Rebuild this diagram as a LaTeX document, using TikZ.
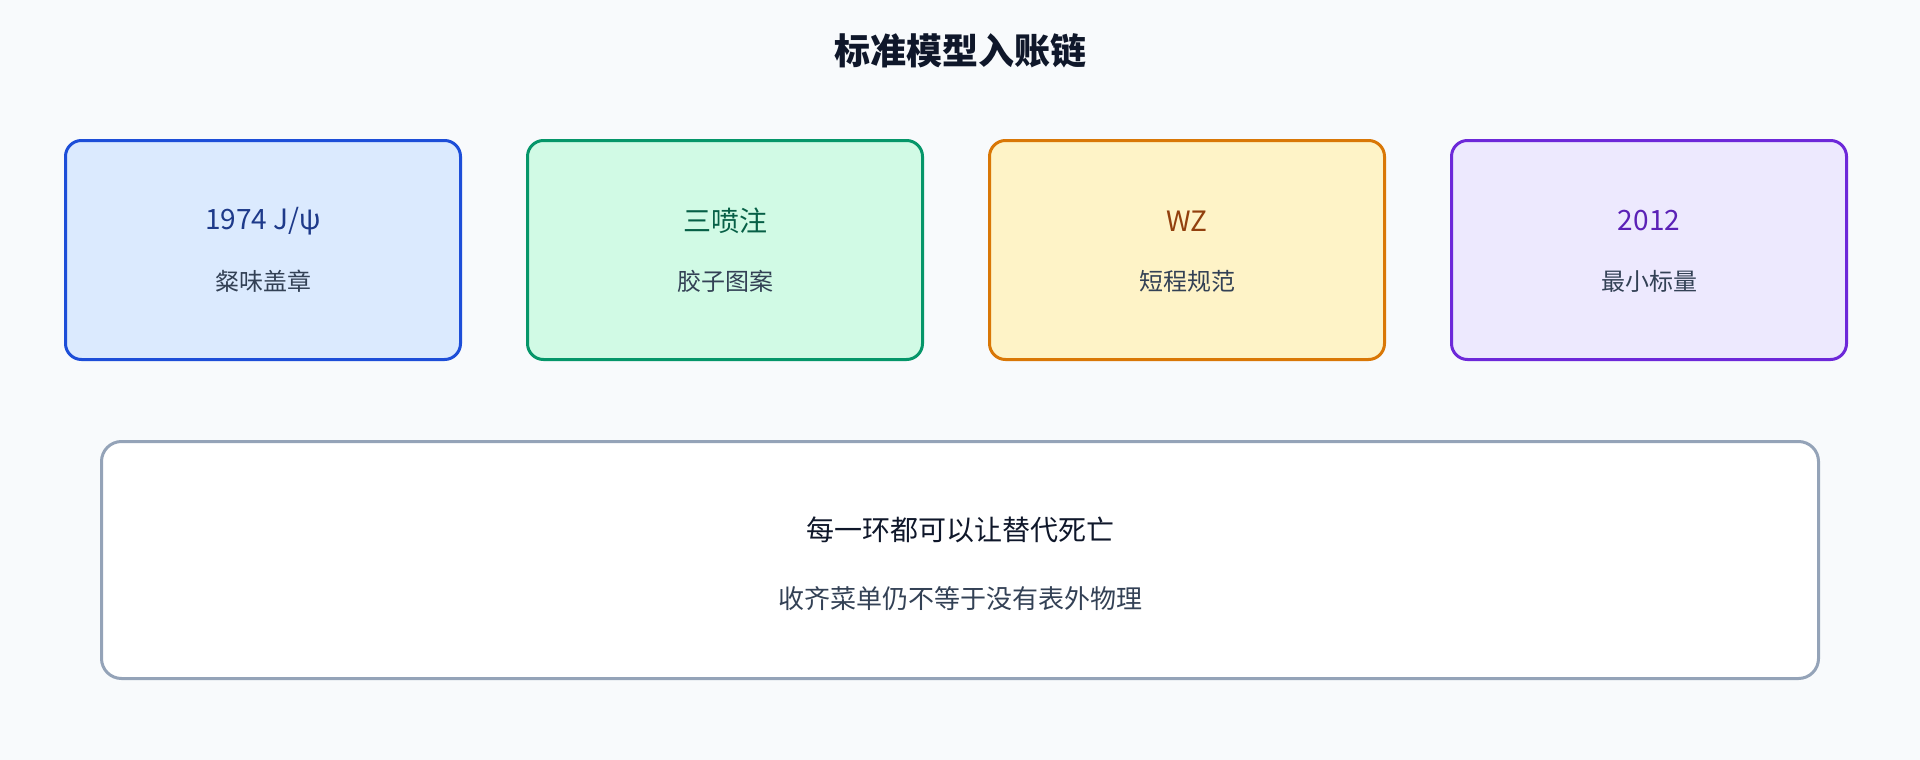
\documentclass[tikz,border=0pt]{standalone}
\usepackage{fontspec}
\setmainfont{Noto Sans CJK SC}
\usetikzlibrary{positioning}

\definecolor{pagebg}{HTML}{F8FAFC}
\definecolor{inkdark}{HTML}{0F172A}
\definecolor{inknote}{HTML}{334155}
\definecolor{blueline}{HTML}{1D4ED8}
\definecolor{bluefill}{HTML}{DBEAFE}
\definecolor{bluetext}{HTML}{1E3A8A}
\definecolor{greenline}{HTML}{059669}
\definecolor{greenfill}{HTML}{D1FAE5}
\definecolor{greentext}{HTML}{065F46}
\definecolor{amberline}{HTML}{D97706}
\definecolor{amberfill}{HTML}{FEF3C7}
\definecolor{ambertext}{HTML}{92400E}
\definecolor{violetline}{HTML}{6D28D9}
\definecolor{violetfill}{HTML}{EDE9FE}
\definecolor{violettext}{HTML}{5B21B6}
\definecolor{slateline}{HTML}{94A3B8}

\begin{document}
\begin{tikzpicture}[x=1pt,y=-1pt]
    \tikzstyle{card}=[rectangle,draw,line width=3pt,rounded corners=16pt,minimum width=395pt,minimum height=219pt,inner sep=0pt]
    \tikzstyle{cardhead}=[inner sep=0pt,font=\fontsize{28}{32}\selectfont]
    \tikzstyle{cardnote}=[inner sep=0pt,text=inknote,font=\fontsize{24}{28}\selectfont]
    \fill [pagebg] (0,0) rectangle (1920,760);
    \useasboundingbox (0,0) rectangle (1920,760);
    \node [inner sep=0pt,text=inkdark,font=\fontsize{36}{40}\selectfont\bfseries] (title) at (960,51) {标准模型入账链};
    % four links of the chain
    \node [card,draw=blueline,fill=bluefill] (jpsi) at (263,250) {};
    \node [cardhead,text=bluetext] (jpsihead) at ([yshift=29pt]jpsi.center) {1974 J/ψ};
    \node [cardnote] (jpsinote) at ([yshift=-31pt]jpsi.center) {粲味盖章};
    \node [card,draw=greenline,fill=greenfill] (gluon) at (725,250) {};
    \node [cardhead,text=greentext] (gluonhead) at ([yshift=29pt]gluon.center) {三喷注};
    \node [cardnote] (gluonnote) at ([yshift=-31pt]gluon.center) {胶子图案};
    \node [card,draw=amberline,fill=amberfill] (wz) at (1187,250) {};
    \node [cardhead,text=ambertext] (wzhead) at ([yshift=29pt]wz.center) {WZ};
    \node [cardnote] (wznote) at ([yshift=-31pt]wz.center) {短程规范};
    \node [card,draw=violetline,fill=violetfill] (higgs) at (1649,250) {};
    \node [cardhead,text=violettext] (higgshead) at ([yshift=29pt]higgs.center) {2012};
    \node [cardnote] (higgsnote) at ([yshift=-31pt]higgs.center) {最小标量};
    % summary
    \node [card,draw=slateline,fill=white,rounded corners=20pt,minimum width=1717pt,minimum height=237pt] (summary) at (960,560) {};
    \node [cardhead,text=inkdark] (summaryhead) at ([yshift=30pt]summary.center) {每一环都可以让替代死亡};
    \node [cardnote,font=\fontsize{26}{30}\selectfont] (summarynote) at ([yshift=-39pt]summary.center) {收齐菜单仍不等于没有表外物理};
\end{tikzpicture}
\end{document}
